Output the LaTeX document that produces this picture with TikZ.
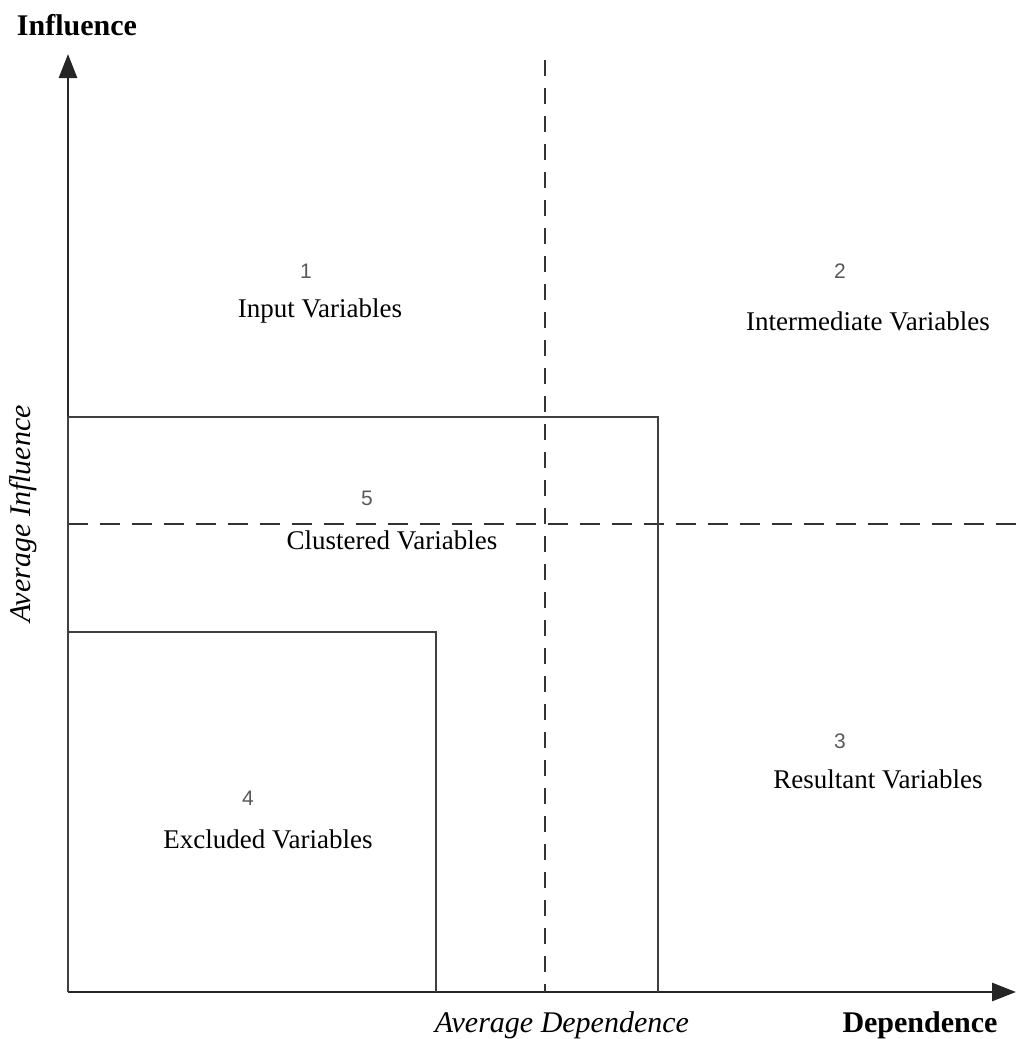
\documentclass[tikz,border=0pt]{standalone}
\usepackage{fontspec}
\setmainfont{Liberation Serif}
\newfontfamily\numfont{Liberation Sans}
\usetikzlibrary{arrows.meta}
\usetikzlibrary{positioning}

\begin{document}
\begin{tikzpicture}[x=0.5pt,y=-0.5pt,
    axis/.style={line width=1.4pt,black!85,-{Triangle[length=12pt,width=9pt]}},
    boxline/.style={line width=1.4pt,black!75},
    avgline/.style={line width=1.2pt,black!80,dash pattern=on 8pt off 6pt},
    zone/.style={font=\fontsize{13.5}{16}\selectfont,inner sep=0pt},
    zonenum/.style={font=\numfont\fontsize{10.5}{12}\selectfont,text=black!65,inner sep=0pt},
    axislabel/.style={font=\fontsize{15}{18}\selectfont\bfseries,inner sep=0pt}]
      \useasboundingbox (0,0) rectangle (1018,1039);
      % axes
      \coordinate (o) at (68,992);
      \coordinate (ytip) at (68,54);
      \coordinate (xtip) at (1016,992);
      \draw[axis] (o) -- (ytip);
      \draw[axis] (o) -- (xtip);
      \node[axislabel] (ylab) at (77,25) {Influence};
      \node[axislabel] (xlab) at (920,1025) {Dependence};
      % averages
      \coordinate (vtop) at (545,60);
      \coordinate (vbot) at (545,992);
      \coordinate (hl) at (68,524);
      \coordinate (hr) at (1018,524);
      \draw[avgline] (vtop) -- (vbot);
      \draw[avgline,dash pattern=on 10pt off 6pt] (hl) -- (hr);
      \node[font=\fontsize{15}{18}\selectfont\itshape,inner sep=0pt] (avgdep) at (562,1025) {Average Dependence};
      \node[font=\fontsize{15}{18}\selectfont\itshape,inner sep=0pt,rotate=90] (avginf) at (23,514) {Average Influence};
      % boxes 5 and 4
      \draw[boxline] (o) |- (658,417) coordinate (c5) -- (658,992);
      \draw[boxline] (68,632) -| (436,992) coordinate (c4);
      % zones
      \node[zonenum] (n1) at (306,271) {1};
      \node[zone] (z1) at (320,311) {Input Variables};
      \node[zonenum] (n2) at (840,271) {2};
      \node[zone] (z2) at (868,321) {Intermediate Variables};
      \node[zonenum] (n5) at (367,498) {5};
      \node[zone] (z5) at (392,540) {Clustered Variables};
      \node[zonenum] (n3) at (840,741) {3};
      \node[zone] (z3) at (878,779) {Resultant Variables};
      \node[zonenum] (n4) at (248,798) {4};
      \node[zone] (z4) at (268,839) {Excluded Variables};
\end{tikzpicture}
\end{document}
